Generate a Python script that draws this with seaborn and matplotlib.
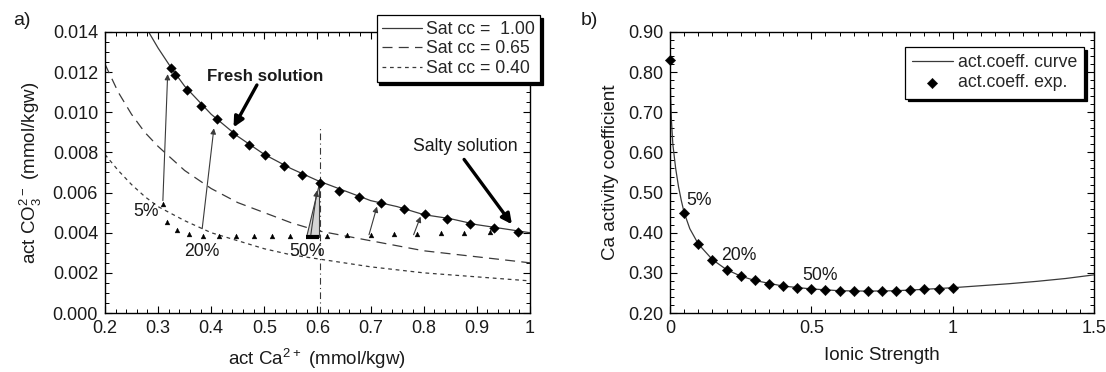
import numpy as np
import pandas as pd
import seaborn as sns
import matplotlib.pyplot as plt
from matplotlib.ticker import MultipleLocator, FormatStrFormatter, FuncFormatter

# ---------------- panel a) values
# saturation curves (act Ca2+ vs act CO3 2-)
ca_sat100 = [0.28, 0.30, 0.325, 0.35, 0.40, 0.45, 0.50, 0.55, 0.60, 0.65, 0.70, 0.75, 0.80, 0.85, 0.90, 0.95, 1.00]
co3_sat100 = [0.0141, 0.0132, 0.0122, 0.0113, 0.0099, 0.0088, 0.0079, 0.0072, 0.0066, 0.0061, 0.0056,
              0.0053, 0.0049, 0.0047, 0.0044, 0.0042, 0.0040]
ca_sat65 = [0.20, 0.225, 0.25, 0.275, 0.30, 0.35, 0.40, 0.45, 0.50, 0.55, 0.60, 0.70, 0.80, 0.90, 1.00]
co3_sat65 = [0.0124, 0.0110, 0.0099, 0.0090, 0.0083, 0.0071, 0.0062, 0.0055, 0.0050, 0.0045, 0.0041,
             0.0036, 0.0031, 0.0028, 0.0025]
ca_sat40 = [0.20, 0.225, 0.25, 0.275, 0.30, 0.35, 0.40, 0.45, 0.50, 0.55, 0.60, 0.70, 0.80, 0.90, 1.00]
co3_sat40 = [0.0079, 0.0071, 0.0064, 0.0058, 0.0053, 0.0046, 0.0040, 0.0036, 0.0032, 0.0029, 0.0027,
             0.0023, 0.0020, 0.0018, 0.0016]
sat_labels = ["Sat cc =  1.00", "Sat cc = 0.65", "Sat cc = 0.40"]

# diamonds on the saturation curve
ca_diam = [0.324, 0.332, 0.355, 0.380, 0.410, 0.441, 0.471, 0.502, 0.537, 0.570, 0.604,
           0.640, 0.678, 0.719, 0.763, 0.802, 0.843, 0.888, 0.932, 0.977]
co3_diam = [0.01219, 0.01186, 0.01111, 0.01032, 0.00966, 0.00894, 0.00839, 0.00785, 0.00732, 0.00686,
            0.00650, 0.00608, 0.00580, 0.00547, 0.00517, 0.00493, 0.00467, 0.00445, 0.00425, 0.00405]

# small triangles (undersaturated points)
ca_tri = [0.310, 0.316, 0.335, 0.359, 0.385, 0.415, 0.446, 0.480, 0.514, 0.548,
          0.617, 0.656, 0.700, 0.744, 0.787, 0.832, 0.876, 0.924]
co3_tri = [0.00545, 0.00453, 0.00413, 0.00395, 0.00385, 0.00382, 0.00382, 0.00382, 0.00382, 0.00382,
           0.00383, 0.00387, 0.00388, 0.00395, 0.00395, 0.00400, 0.00400, 0.00402]

# thin arrows triangle -> diamond
arr_x0 = [0.309, 0.383, 0.5875, 0.697, 0.781]
arr_y0 = [0.0056, 0.0042, 0.0039, 0.0039, 0.0039]
arr_x1 = [0.318, 0.405, 0.599, 0.712, 0.794]
arr_y1 = [0.0119, 0.0092, 0.0061, 0.0053, 0.0048]

# grey wedge at 50 %
wedge_x = [0.578, 0.602, 0.602]
wedge_y = [0.0038, 0.0038, 0.0065]
vline_x = 0.605
vline_top = 0.0092

pct_labels = ["5%", "20%", "50%"]
pct_x_a = [0.278, 0.383, 0.580]
pct_y_a = [0.00508, 0.00308, 0.00308]

# ---------------- panel b) values
ionic_curve = [0.0, 0.002, 0.005, 0.01, 0.02, 0.03, 0.04, 0.05, 0.07, 0.10, 0.15, 0.20, 0.25, 0.30,
               0.40, 0.50, 0.60, 0.70, 0.80, 0.90, 1.00, 1.10, 1.20, 1.30, 1.40, 1.50]
gamma_curve = [0.83, 0.74, 0.68, 0.62, 0.56, 0.515, 0.48, 0.45, 0.41, 0.372, 0.333, 0.308, 0.292, 0.281,
               0.267, 0.260, 0.2555, 0.2545, 0.2555, 0.259, 0.263, 0.268, 0.273, 0.279, 0.286, 0.295]
ionic_exp = [0.0, 0.05, 0.10, 0.15, 0.20, 0.25, 0.30, 0.35, 0.40, 0.45, 0.50,
             0.55, 0.60, 0.65, 0.70, 0.75, 0.80, 0.85, 0.90, 0.95, 1.00]
gamma_exp = [0.831, 0.450, 0.372, 0.333, 0.308, 0.292, 0.281, 0.271, 0.267, 0.263, 0.260,
             0.258, 0.2545, 0.2545, 0.2545, 0.2545, 0.2545, 0.258, 0.259, 0.260, 0.263]
pct_x_b = [0.1035, 0.2416, 0.529]
pct_y_b = [0.479, 0.343, 0.293]

# ---------------- style
sns.set_theme(style="ticks")
plt.rcParams['font.family'] = ['Liberation Sans', 'DejaVu Sans']
plt.rcParams['mathtext.fontset'] = 'custom'
plt.rcParams['mathtext.rm'] = 'Liberation Sans'
plt.rcParams['font.size'] = 12.5
plt.rcParams['axes.linewidth'] = 1.0
plt.rcParams['axes.edgecolor'] = 'black'

txt = '#1a1a1a'
line_col = '#3a3a3a'
fs_tick = 13
fs_lab = 13.5
fs_txt = 12.7

fig = plt.figure(figsize=(11.06, 3.72), dpi=100)
ax1 = fig.add_axes([0.0949, 0.1586, 0.3843, 0.7554])
ax2 = fig.add_axes([0.6058, 0.1586, 0.3834, 0.7554])

# ---- panel a
sns.lineplot(x=ca_sat100, y=co3_sat100, ax=ax1, color=line_col, lw=0.9, label=sat_labels[0])
sns.lineplot(x=ca_sat65, y=co3_sat65, ax=ax1, color=line_col, lw=0.9, linestyle=(0, (8, 5)), label=sat_labels[1])
sns.lineplot(x=ca_sat40, y=co3_sat40, ax=ax1, color=line_col, lw=0.9, linestyle=(0, (3, 3)), label=sat_labels[2])

ax1.plot([vline_x, vline_x], [0, vline_top], color=line_col, lw=0.8, linestyle=(0, (6, 3, 1, 3)))
ax1.fill(wedge_x, wedge_y, facecolor='#d4d4d4', edgecolor=line_col, lw=0.8, zorder=3)
ax1.plot(wedge_x[:2], wedge_y[:2], color='black', lw=3, zorder=4, solid_capstyle='butt')

for x0, y0, x1, y1 in zip(arr_x0, arr_y0, arr_x1, arr_y1):
    ax1.annotate('', xy=(x1, y1), xytext=(x0, y0),
                 arrowprops=dict(arrowstyle='-|>', lw=0.8, color=line_col, mutation_scale=8,
                                 shrinkA=0, shrinkB=0), zorder=5)

sns.scatterplot(x=ca_tri, y=co3_tri, ax=ax1, marker='^', s=12, color='black', edgecolor='black',
                linewidth=0.3, zorder=6)
sns.scatterplot(x=ca_diam, y=co3_diam, ax=ax1, marker='D', s=24, color='black', edgecolor='black',
                linewidth=0.3, zorder=6)

ax1.text(0.502, 0.01177, "Fresh solution", ha='center', va='center', fontsize=fs_txt - 0.5,
         fontweight='bold', color=txt)
ax1.annotate('', xy=(0.442, 0.00925), xytext=(0.486, 0.01136),
             arrowprops=dict(arrowstyle='-|>', lw=2.4, color='black', mutation_scale=15, shrinkA=0, shrinkB=0))
ax1.text(0.879, 0.00831, "Salty solution", ha='center', va='center', fontsize=fs_txt, color=txt)
ax1.annotate('', xy=(0.966, 0.00442), xytext=(0.876, 0.00765),
             arrowprops=dict(arrowstyle='-|>', lw=2.4, color='black', mutation_scale=15, shrinkA=0, shrinkB=0))

for lab, x, y in zip(pct_labels, pct_x_a, pct_y_a):
    ax1.text(x, y, lab, ha='center', va='center', fontsize=fs_txt, color=txt)

ax1.set_xlim(0.2, 1.0)
ax1.set_ylim(0.0, 0.014)
ax1.xaxis.set_major_locator(MultipleLocator(0.1))
ax1.xaxis.set_minor_locator(MultipleLocator(0.02))
ax1.yaxis.set_major_locator(MultipleLocator(0.002))
ax1.yaxis.set_minor_locator(MultipleLocator(0.0005))
ax1.xaxis.set_major_formatter(FuncFormatter(lambda v, p: '%g' % round(v, 3)))
ax1.yaxis.set_major_formatter(FormatStrFormatter('%.3f'))
ax1.set_xlabel(r'act Ca$^\mathregular{2+}$ (mmol/kgw)', fontsize=fs_lab, color=txt, labelpad=7)
ax1.set_ylabel(r'act CO$_\mathregular{3}^\mathregular{2-}$ (mmol/kgw)', fontsize=fs_lab, color=txt, labelpad=6)

leg1 = ax1.legend(loc='upper left', bbox_to_anchor=(0.639, 1.059), borderaxespad=0, fancybox=False,
                  frameon=True, edgecolor='black', framealpha=1, fontsize=fs_txt, handlelength=2.3,
                  handletextpad=0.2, labelspacing=0.15, borderpad=0.3,
                  shadow={'color': 'black', 'alpha': 1})
leg1.get_frame().set_linewidth(0.9)
leg1.set_zorder(10)

# ---- panel b
sns.lineplot(x=ionic_curve, y=gamma_curve, ax=ax2, color=line_col, lw=0.9, label='act.coeff. curve')
sns.scatterplot(x=ionic_exp, y=gamma_exp, ax=ax2, marker='D', s=28, color='black', edgecolor='black',
                linewidth=0.3, zorder=6, label='act.coeff. exp.', clip_on=False)
for lab, x, y in zip(pct_labels, pct_x_b, pct_y_b):
    ax2.text(x, y, lab, ha='center', va='center', fontsize=fs_txt, color=txt)

ax2.set_xlim(0, 1.5)
ax2.set_ylim(0.2, 0.9)
ax2.xaxis.set_major_locator(MultipleLocator(0.5))
ax2.xaxis.set_minor_locator(MultipleLocator(0.05))
ax2.yaxis.set_major_locator(MultipleLocator(0.1))
ax2.yaxis.set_minor_locator(MultipleLocator(0.02))
ax2.xaxis.set_major_formatter(FuncFormatter(lambda v, p: '%g' % round(v, 3)))
ax2.yaxis.set_major_formatter(FormatStrFormatter('%.2f'))
ax2.set_xlabel('Ionic Strength', fontsize=fs_lab, color=txt, labelpad=7)
ax2.set_ylabel('Ca activity coefficient', fontsize=fs_lab, color=txt, labelpad=6)

leg2 = ax2.legend(loc='upper left', bbox_to_anchor=(0.554, 0.947), borderaxespad=0, fancybox=False,
                  frameon=True, edgecolor='black', framealpha=1, fontsize=fs_txt, handlelength=2.3,
                  handletextpad=0.3, labelspacing=0.2, borderpad=0.4,
                  shadow={'color': 'black', 'alpha': 1})
leg2.get_frame().set_linewidth(0.9)

for ax in (ax1, ax2):
    for sp in ax.spines.values():
        sp.set_visible(True)
        sp.set_color('black')
    ax.tick_params(which='both', direction='in', top=True, right=True, colors='black',
                   labelcolor=txt, labelsize=fs_tick)
    ax.tick_params(which='major', length=5, width=0.8, pad=5)
    ax.tick_params(which='minor', length=3, width=0.7)

fig.text(0.012, 0.945, 'a)', fontsize=14, color=txt, va='center')
fig.text(0.525, 0.945, 'b)', fontsize=14, color=txt, va='center')

fig.savefig('out.png', dpi=100, facecolor='white')
